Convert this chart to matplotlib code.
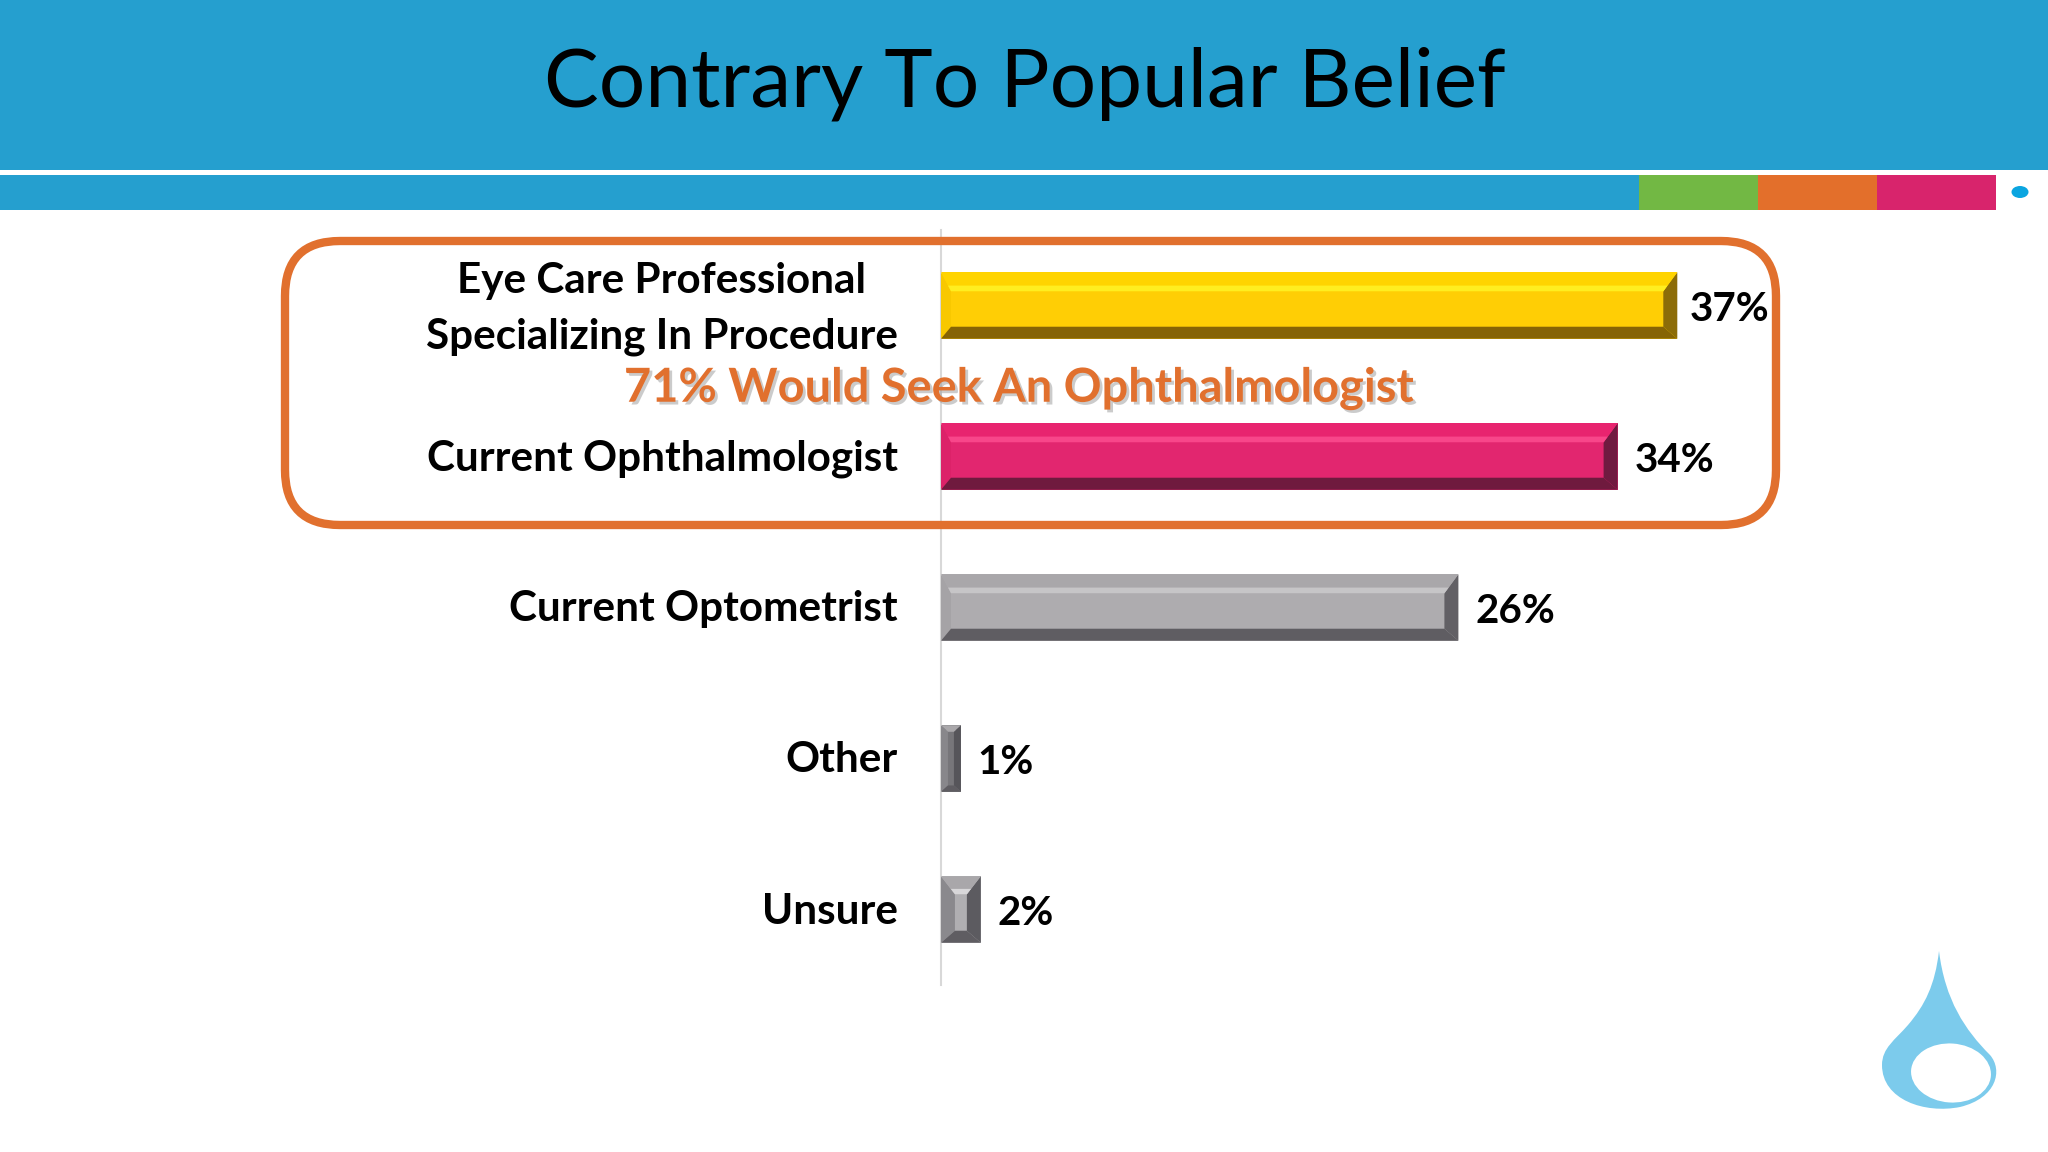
import matplotlib
matplotlib.use("Agg")
import matplotlib.pyplot as plt
import matplotlib.patheffects as pe
from matplotlib.patches import Rectangle, FancyBboxPatch, PathPatch, Ellipse, Polygon
from matplotlib.path import Path
from matplotlib.transforms import Affine2D

categories = ["Eye Care Professional\nSpecializing In Procedure", "Current Ophthalmologist",
              "Current Optometrist", "Other", "Unsure"]
values = [37, 34, 26, 1, 2]
value_labels = ["37%", "34%", "26%", "1%", "2%"]
title = "Contrary To Popular Belief"
callout = "71% Would Seek An Ophthalmologist"

# face colours: centre, top, highlight, bottom, left, right
yellow = ["#FFCE05", "#FFD400", "#FFEE20", "#866405", "#F8C800", "#8C6C08"]
pink = ["#E2266F", "#E8246F", "#F8468A", "#6F1A3E", "#DC2269", "#701A40"]
grey_wide = ["#AEACAF", "#A9A7AA", "#C6C5C7", "#5F5D62", "#A5A3A6", "#626065"]
grey_other = ["#77767A", "#A9A7AA", "#A9A7AA", "#5F5D62", "#88878B", "#56555A"]
grey_unsure = ["#B0AFB2", "#A9A7AA", "#D8D7D9", "#5F5D62", "#8A898D", "#5C5B60"]
bar_faces = [yellow, pink, grey_wide, grey_other, grey_unsure]
label_pads = [9, 12.5, 12.5, 12, 12]

plt.rcParams["font.family"] = ["Lato", "DejaVu Sans"]
W, H = 2048, 1152
fig = plt.figure(figsize=(W / 100, H / 100), dpi=100, facecolor="white")

# chart axes: one category = 151 px, one percent = 19.9 px
left, right, top, bottom = 941, 1737, 230, 985
ax = fig.add_axes([left / W, 1 - bottom / H, (right - left) / W, (bottom - top) / H], zorder=1)
ax.set_xlim(0, 40)
ax.set_ylim(4.5, -0.5)
ax.patch.set_alpha(0)
for s in ["top", "right", "bottom"]:
    ax.spines[s].set_visible(False)
ax.spines["left"].set_color("#D8D8D8")
ax.spines["left"].set_linewidth(1.5)
ax.set_xticks([])
ax.set_yticks(range(len(categories)))
ax.set_yticklabels(categories, fontsize=30.4, fontweight="bold", color="black",
                   linespacing=1.58, multialignment="center")
ax.tick_params(axis="y", length=0, pad=31)
for k, tl in enumerate(ax.get_yticklabels()):
    tl.set_transform(tl.get_transform() + Affine2D().translate(0, 9 if k == 0 else 1.5))

px_x = (right - left) / 40       # pixels per percent
px_y = (bottom - top) / 5        # pixels per category
bar_h = 0.44
for i, (v, f, lab, pad) in enumerate(zip(values, bar_faces, value_labels, label_pads)):
    y0, y1 = i - bar_h / 2, i + bar_h / 2
    ax.barh(i, v, height=bar_h, color=f[0], zorder=2)
    small = v < 5
    dxl = 0.35 * v if small else 10 / px_x
    dxr = 0.35 * v if small else 14 / px_x
    t_px = min(19, 0.9 * dxl * px_x) if small else 19
    t_px = 18 if v == 2 else t_px
    b_px = min(12, t_px)
    ix0, ix1 = dxl, v - dxr
    iy0, iy1 = y0 + t_px / px_y, y1 - b_px / px_y
    hl = min(6, t_px * 0.3) / px_y
    sl = hl * dxl / (iy0 - y0)
    sr = hl * dxr / (iy0 - y0)
    ax.add_patch(Polygon([(0, y0), (ix0, iy0), (ix0, iy1), (0, y1)], color=f[4], lw=0, zorder=3))
    ax.add_patch(Polygon([(v, y0), (ix1, iy0), (ix1, iy1), (v, y1)], color=f[5], lw=0, zorder=3))
    ax.add_patch(Polygon([(0, y0), (v, y0), (ix1, iy0), (ix0, iy0)], color=f[1], lw=0, zorder=3))
    ax.add_patch(Polygon([(0, y1), (v, y1), (ix1, iy1), (ix0, iy1)], color=f[3], lw=0, zorder=3))
    ax.add_patch(Polygon([(ix0 - sl, iy0 - hl), (ix1 + sr, iy0 - hl), (ix1, iy0), (ix0, iy0)],
                         color=f[2], lw=0, zorder=3))
    ax.annotate(lab, xy=(v, i), xytext=(pad, -3), textcoords="offset points", ha="left", va="center",
                fontsize=29, fontweight="bold", color="black", zorder=5)

# slide furniture in pixel coordinates
ov = fig.add_axes([0, 0, 1, 1], zorder=2)
ov.set_xlim(0, W)
ov.set_ylim(H, 0)
ov.axis("off")
ov.patch.set_alpha(0)

ov.add_patch(Rectangle((0, 0), W, 170, color="#259FCF", lw=0))
ov.add_patch(Rectangle((0, 175), 1640, 35, color="#259FCF", lw=0))
ov.add_patch(Rectangle((1639, 175), 119, 35, color="#72B844", lw=0))
ov.add_patch(Rectangle((1758, 175), 119, 35, color="#E36F2B", lw=0))
ov.add_patch(Rectangle((1877, 175), 119, 35, color="#D8246C", lw=0))
ov.add_patch(Ellipse((2020, 192), 17, 12, color="#0BA5E0", lw=0))
ov.text(1025, 84, title, ha="center", va="center", fontsize=59, color="black")

ov.add_patch(FancyBboxPatch((285 + 55, 241 + 55), 1491 - 110, 284 - 110,
                            boxstyle="round,pad=55,rounding_size=55",
                            fc="none", ec="#E1702E", lw=6, zorder=4))
ov.text(1019, 388, callout, ha="center", va="center", fontsize=33.8, fontweight="bold", color="#E1702E",
        zorder=5, path_effects=[pe.withSimplePatchShadow(offset=(2, -2), shadow_rgbFace="#999999", alpha=0.5)])

drop = Path([(1939, 951), (1945, 1000), (1965, 1030), (1990, 1055),
             (2003, 1070), (1997, 1098), (1960, 1107), (1925, 1114), (1882, 1100), (1882, 1065),
             (1882, 1048), (1895, 1040), (1908, 1025), (1925, 1005), (1935, 985), (1939, 951)],
            [Path.MOVETO, Path.CURVE4, Path.CURVE4, Path.CURVE4,
             Path.CURVE4, Path.CURVE4, Path.CURVE4, Path.CURVE4, Path.CURVE4, Path.CURVE4,
             Path.CURVE4, Path.CURVE4, Path.CURVE4, Path.CURVE4, Path.CURVE4, Path.CURVE4])
ov.add_patch(PathPatch(drop, fc="#7CCBEC", ec="none"))
ov.add_patch(Ellipse((1951, 1073), 80, 59, angle=4, fc="white", ec="none"))

fig.savefig("out.png", dpi=100)
